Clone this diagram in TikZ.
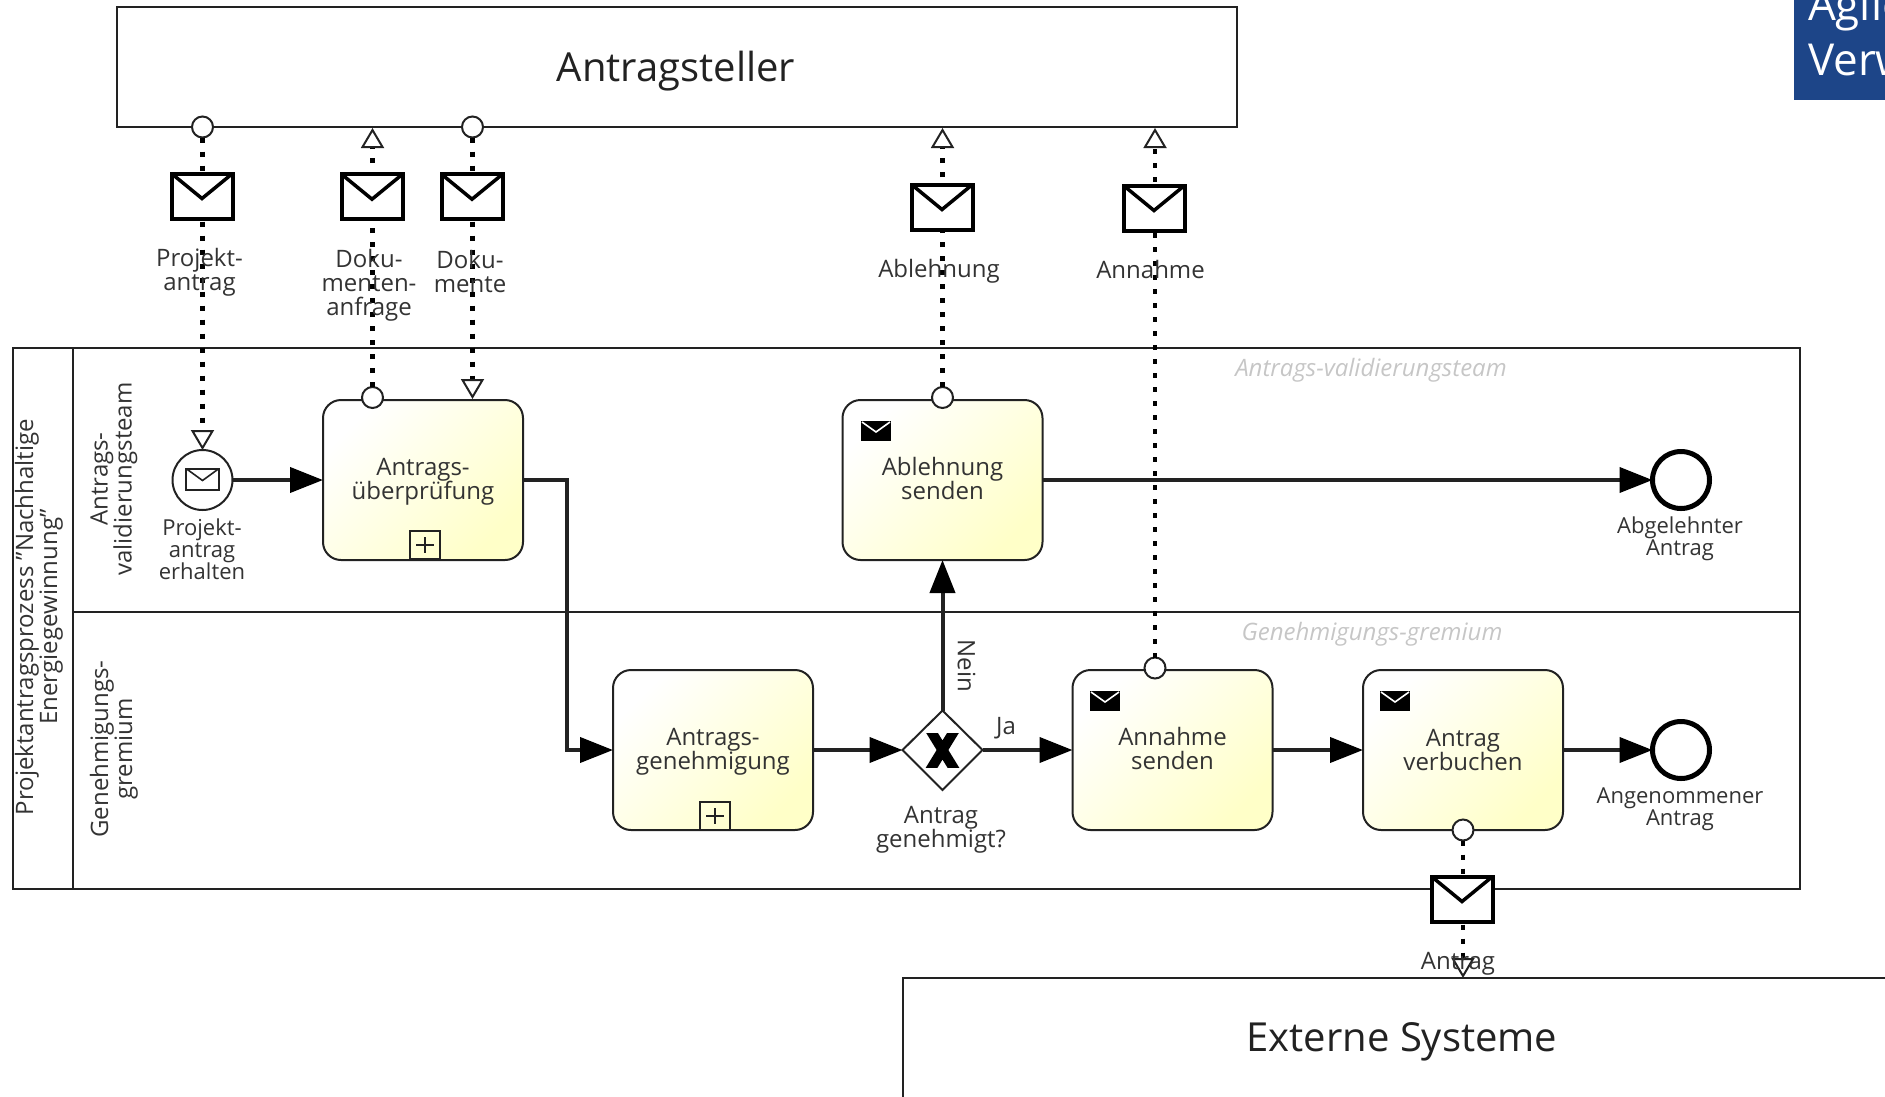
\documentclass[tikz,border=0pt]{standalone}
\usepackage{fontspec}
\setmainfont{Open Sans}
\usetikzlibrary{arrows.meta,positioning}
\definecolor{ink}{HTML}{222222}
\definecolor{txt}{HTML}{333333}
\definecolor{cream}{HTML}{FFFFC8}
\definecolor{creammid}{HTML}{FFFFDE}
\definecolor{navy}{HTML}{1D4588}
\definecolor{lanegrey}{HTML}{C6C6C6}
\newcommand{\depthpad}[1]{\rule[-#1pt]{0pt}{1pt}}
\tikzset{
  base/.style={inner sep=0pt,outer sep=0pt},
  bigbox/.style={base,draw=ink,line width=2pt,fill=white},
  bigtext/.style={base,text=ink,font=\fontsize{40}{46}\selectfont},
  lane/.style={draw=ink,line width=2pt},
  task/.style={base,draw=ink,line width=2pt,rounded corners=18pt,minimum width=200pt,minimum height=160pt,
     top color=white,middle color=creammid,bottom color=cream,shading angle=45,align=center,text=txt,font=\fontsize{24}{24}\selectfont},
  port/.style={base,circle,draw=ink,line width=2pt,fill=white,minimum size=21pt},
  msgicon/.style={base,draw=black,line width=4pt,fill=white,minimum width=61pt,minimum height=45pt,
     path picture={\draw[black,line width=3.5pt]
       (path picture bounding box.north west)--([yshift=-25pt]path picture bounding box.north)--(path picture bounding box.north east);}},
  sendicon/.style={base,fill=black,minimum width=30pt,minimum height=20pt,
     path picture={\draw[white,line width=1.6pt]
       ([xshift=1pt,yshift=-1pt]path picture bounding box.north west)--([yshift=-11pt]path picture bounding box.north)--([xshift=-1pt,yshift=-1pt]path picture bounding box.north east);}},
  subicon/.style={base,draw=ink,line width=1.6pt,minimum width=30pt,minimum height=28pt,
     path picture={\draw[ink,line width=1.4pt]
       ([yshift=-6pt]path picture bounding box.north)--([yshift=6pt]path picture bounding box.south)
       ([xshift=6pt]path picture bounding box.west)--([xshift=-6pt]path picture bounding box.east);}},
  seqflow/.style={draw=ink,line width=4pt,-{Triangle[length=33pt,width=25pt,color=black]}},
  msgflow/.style={draw=black,line width=4.5pt,dash pattern=on 5pt off 9pt,
     -{Triangle[open,length=20pt,width=23pt,line width=2pt,fill=white,color=ink]}},
  lbl/.style={base,align=center,text=txt,font=\fontsize{24}{24}\selectfont},
  evlbl/.style={base,align=center,text=txt,font=\fontsize{22}{22}\selectfont},
  lanetitle/.style={base,align=center,text=txt,rotate=90,font=\fontsize{24}{24}\selectfont},
  ghost/.style={base,text=lanegrey,font=\itshape\fontsize{24}{24}\selectfont},
  endev/.style={base,circle,draw=black,line width=5pt,fill=white,minimum size=57pt},
}
\begin{document}
\begin{tikzpicture}[x=1pt,y=-1pt]
\path[use as bounding box,clip] (0,0) rectangle (1885,1096);
% corner banner
\fill[navy] (1794,0) rectangle (1890,100);
\node[base,anchor=base west,text=white,font=\fontsize{44}{50}\selectfont] (bannerA) at (1808,20) {Agile};
\node[base,anchor=base west,text=white,font=\fontsize{44}{50}\selectfont] (bannerB) at (1808,75) {Verwaltung};
% participant boxes
\node[bigbox,minimum width=1120pt,minimum height=120pt] (top) at (676.5,67) {};
\node[bigtext] (toplabel) at (676,71) {Antragsteller};
\node[bigbox,anchor=north west,minimum width=1100pt,minimum height=200pt] (ext) at (903,978) {};
\node[bigtext] (extlabel) at (1402,1042) {Externe Systeme};
% pool
\draw[lane] (13,347.5) rectangle (1800,888.5);
\draw[lane] (72.5,347.5) -- (72.5,888.5);
\draw[lane] (72.5,612) -- (1800,612);
\node[lanetitle] (pooltitle) at (39,617) {Projektantragsprozess "Nachhaltige\\Energiegewinnung"};
\node[lanetitle] (laneA) at (114,479) {Antrags-\\validierungsteam};
\node[lanetitle] (laneB) at (114,749) {Genehmigungs-\\gremium};
\node[ghost] (ghostA) at (1371,370) {Antrags-validierungsteam};
\node[ghost] (ghostB) at (1372,634) {Genehmigungs-gremium};
% tasks
\node[task] (t1) at (423,480) {Antrags-\\\smash{überprüfung}\depthpad{2.5}};
\node[task] (t2) at (942.5,480) {Ablehnung\\senden\depthpad{4}};
\node[task] (t3) at (713,750) {Antrags-\\\smash{genehmigung}\depthpad{2.5}};
\node[task] (t4) at (1172.5,750) {Annahme\\senden\depthpad{2.5}};
\node[task] (t5) at (1463,750) {Antrag\\verbuchen\depthpad{1}};
\node[subicon] (s1) at (425,545) {};
\node[subicon] (s3) at (715,816) {};
\node[sendicon] (i2) at (876,431) {};
\node[sendicon] (i4) at (1105,701) {};
\node[sendicon] (i5) at (1395,701) {};
% events
\node[base,circle,draw=ink,line width=2pt,fill=white,minimum size=60pt] (start) at (202.5,480) {};
\node[base,draw=ink,line width=2pt,fill=white,minimum width=33pt,minimum height=21pt,
  path picture={\draw[ink,line width=1.6pt] (path picture bounding box.north west)--([yshift=-12pt]path picture bounding box.north)--(path picture bounding box.north east);}] (starticon) at (202.5,479) {};
\node[endev] (end1) at (1681,480) {};
\node[endev] (end2) at (1681,750) {};
% gateway
\draw[ink,line width=2pt,fill=white] (902.5,750) -- (942.5,710.5) -- (982.5,750) -- (942.5,790) -- cycle;
\begin{scope}
  \clip (925,733) rectangle (960,767);
  \draw[black,line width=10pt] (929,728) -- (956,772) (956,728) -- (929,772);
\end{scope}
\coordinate (gwN) at (942.5,710.5);
\coordinate (gwE) at (982.5,750);
\coordinate (gwW) at (902.5,750);
% sequence flows
\draw[seqflow] (start.east) -- (t1.west);
\draw[seqflow] (t1.east) -| (566.5,750) -- (t3.west);
\draw[seqflow] (t3.east) -- (gwW);
\draw[seqflow] (gwN) -- (t2.south);
\draw[seqflow] (gwE) -- (t4.west);
\draw[seqflow] (t4.east) -- (t5.west);
\draw[seqflow] (t2.east) -- (end1.west);
\draw[seqflow] (t5.east) -- (end2.west);
% ports
\node[port] (pA) at (202.5,127) {};
\node[port] (pB) at (472.5,127) {};
\node[port] (pC) at (372.5,397.5) {};
\node[port] (pD) at (942.5,397.5) {};
\node[port] (pE) at (1155,668) {};
\node[port] (pF) at (1463,830) {};
% message flow ends
\coordinate (cC) at (372.5,128);
\coordinate (cB) at (472.5,399);
\coordinate (cD) at (942.5,128);
\coordinate (cE) at (1155,128);
\coordinate (cF) at (1463,978);
% message flows
\draw[msgflow] (pA) -- (start.north);
\draw[msgflow] (pC) -- (cC);
\draw[msgflow] (pB) -- (cB);
\draw[msgflow] (pD) -- (cD);
\draw[msgflow] (pE) -- (cE);
\draw[msgflow] (pF) -- (cF);
% envelopes
\node[msgicon] (m1) at (202,196) {};
\node[msgicon] (m2) at (372,196.7) {};
\node[msgicon] (m3) at (472,196.7) {};
\node[msgicon] (m4) at (942,207) {};
\node[msgicon] (m5) at (1154,208) {};
\node[msgicon] (m6) at (1462,899) {};
% labels
\node[lbl] (l1) at (199.5,272.5) {Projekt-\\antrag};
\node[lbl] (l2) at (369,285) {Doku-\\menten-\\anfrage};
\node[lbl] (l3) at (470,271) {Doku-\\mente};
\node[lbl] (l4) at (939,271.5) {Ablehnung};
\node[lbl] (l5) at (1150.5,269) {Annahme};
\node[lbl] (l6) at (1458,964) {Antrag};
\node[evlbl] (e1) at (202,549) {Projekt-\\antrag\\erhalten};
\node[evlbl] (e2) at (1680,538.5) {Abgelehnter\\Antrag};
\node[evlbl] (e3) at (1680,809.5) {Angenommener\\Antrag};
\node[lbl] (e4) at (941,829.5) {Antrag\\genehmigt?};
\node[lbl,rotate=-90] (nein) at (966.5,666) {Nein};
\node[lbl] (ja) at (1006,728.5) {Ja};
\end{tikzpicture}
\end{document}
